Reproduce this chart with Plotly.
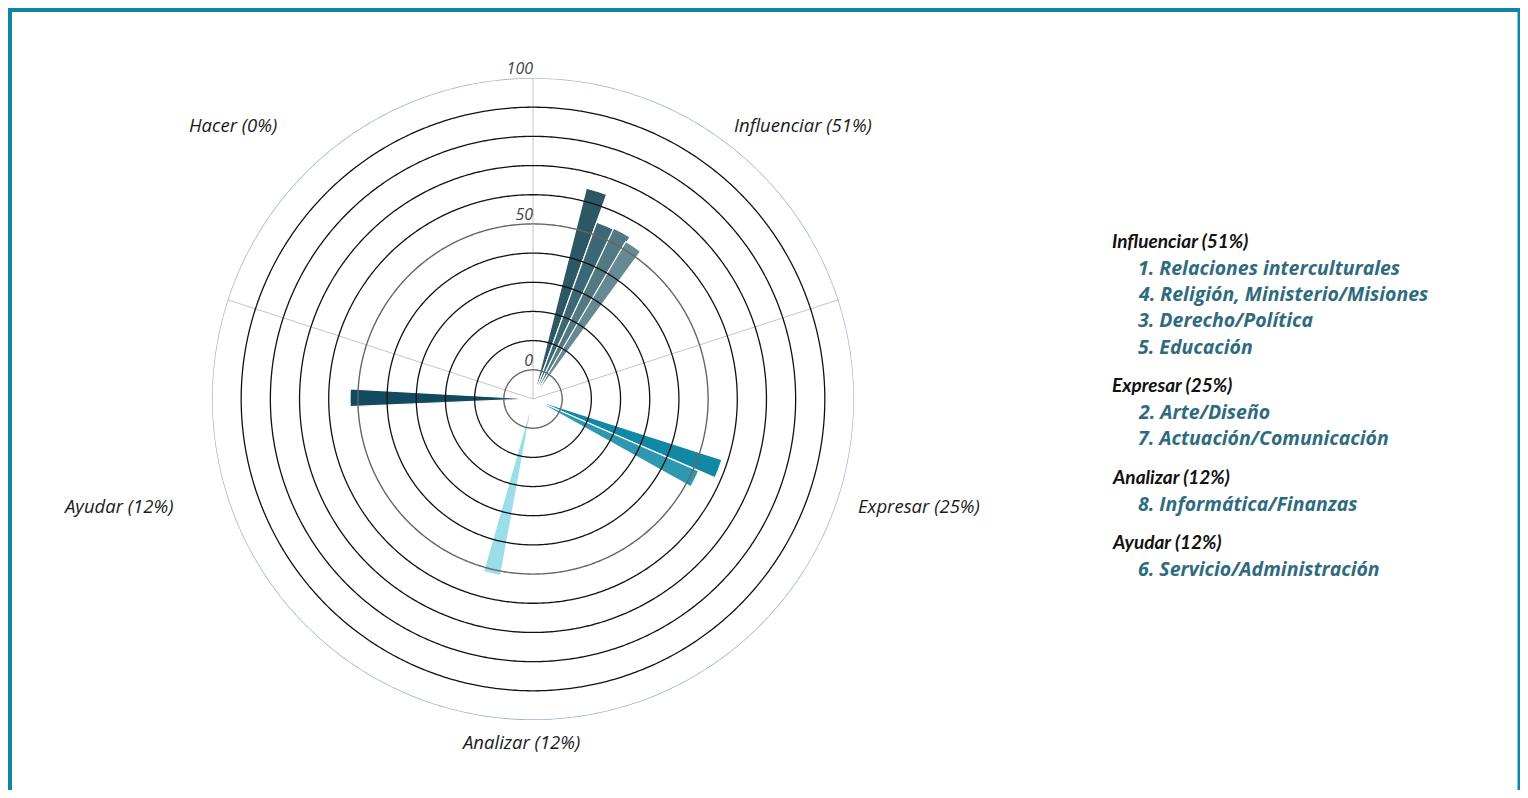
import numpy as np
import plotly.graph_objects as go

# ---------------- data ----------------
categories = ["Influenciar", "Expresar", "Analizar", "Ayudar", "Hacer"]
category_pct = [51, 25, 12, 12, 0]
sector_edges = [90, 18, -54, -126, 162]

item_labels = [
    ["1. Relaciones interculturales", "4. Religión, Ministerio/Misiones",
     "3. Derecho/Política", "5. Educación"],
    ["2. Arte/Diseño", "7. Actuación/Comunicación"],
    ["8. Informática/Finanzas"],
    ["6. Servicio/Administración"],
    [],
]
item_values = [
    [64.5, 54.4, 54.7, 52.6],
    [58.0, 51.9],
    [51.5],
    [52.7],
    [],
]
item_theta = [
    [73.0, 67.4, 61.9, 56.7],
    [-20.6, -26.3],
    [-103.2],
    [179.6],
    [],
]
item_colors = [
    ["#1b4c58", "#2d5d6a", "#456f7a", "#5b828b"],
    ["#00809f", "#1e91ab"],
    ["#94dce9"],
    ["#033d55"],
    [],
]

radial_ticks = [0, 10, 20, 30, 40, 50, 60, 70, 80, 90, 100]
radial_labels = [0, 50, 100]

# ---------------- layout helpers ----------------
# the page body adds an 8px margin, so the figure is shifted by OFF
OFF = 8
W, H = 1514, 782
CX, CY, R = 533, 399, 321
BAR_BASE = -5


def px(x):
    return (x - OFF) / W


def py(y):
    return 1 - (y - OFF) / H


fig = go.Figure()

# circular grid lines
circle_theta = np.linspace(0, 360, 721)
for t in radial_ticks:
    if t == 100:
        col, w = "#9fb2c4", 1.4
    elif t in (0, 50):
        col, w = "#666666", 1.4
    else:
        col, w = "#111111", 1.3
    fig.add_trace(go.Scatterpolar(
        r=[t] * len(circle_theta), theta=circle_theta, mode="lines",
        line=dict(color=col, width=w), hoverinfo="skip", showlegend=False))

# bars
for ci, cat in enumerate(categories):
    vals = item_values[ci]
    if not vals:
        continue
    fig.add_trace(go.Barpolar(
        r=[v - BAR_BASE for v in vals],
        base=[BAR_BASE] * len(vals),
        theta=item_theta[ci],
        width=[5.6] * len(vals),
        marker=dict(color=item_colors[ci], line=dict(color="white", width=1.2)),
        opacity=0.93,
        text=item_labels[ci],
        hovertemplate="%{text}<extra></extra>",
        showlegend=False,
    ))

# radial tick labels
fig.add_trace(go.Scatterpolar(
    r=radial_labels, theta=[90] * len(radial_labels), mode="text",
    text=[str(v) for v in radial_labels], textposition="top left",
    textfont=dict(family="Open Sans", size=16, color="#444444", style="italic"),
    hoverinfo="skip", showlegend=False))

fig.update_layout(
    width=W, height=H,
    margin=dict(l=0, r=0, t=0, b=0),
    paper_bgcolor="white",
    plot_bgcolor="white",
    polar=dict(
        domain=dict(x=[px(CX - R), px(CX + R)], y=[py(CY + R), py(CY - R)]),
        bgcolor="white",
        radialaxis=dict(range=[-10, 100], visible=False, showgrid=False),
        angularaxis=dict(
            direction="counterclockwise", rotation=0,
            tickmode="array", tickvals=sector_edges,
            showticklabels=False, ticks="",
            showgrid=True, gridcolor="#c4c4c4", gridwidth=1.2,
            showline=False,
        ),
    ),
)

# category labels around the chart
label_pos = {
    "Influenciar": (803, 124),
    "Expresar": (919, 505),
    "Analizar": (520, 741),
    "Ayudar": (118, 505),
    "Hacer": (233, 124),
}
for cat, pct in zip(categories, category_pct):
    x, y = label_pos[cat]
    fig.add_annotation(
        x=px(x), y=py(y), xref="paper", yref="paper",
        text=f"{cat} ({pct}%)", showarrow=False,
        xanchor="center", yanchor="middle",
        font=dict(family="Open Sans", size=18.5, color="#1a1a1a", style="italic"))

# legend text on the right
y = 240
for ci, cat in enumerate(categories):
    if not item_labels[ci]:
        continue
    fig.add_annotation(
        x=px(1110), y=py(y), xref="paper", yref="paper",
        text=f"{cat} ({category_pct[ci]}%)", showarrow=False,
        xanchor="left", yanchor="middle",
        font=dict(family="Lato", size=19, color="#111111", style="italic", weight=700))
    y += 27
    for lab in item_labels[ci]:
        fig.add_annotation(
            x=px(1136), y=py(y), xref="paper", yref="paper",
            text=lab, showarrow=False, xanchor="left", yanchor="middle",
            font=dict(family="Open Sans", size=19.5, color="#2f6b7e",
                      style="italic", weight=700))
        y += 26.4
    y += 12

# frame
fig.add_shape(
    type="rect", xref="paper", yref="paper",
    x0=px(10), x1=px(1519.5), y0=py(805), y1=py(10),
    line=dict(color="#0e86a6", width=4), fillcolor="rgba(0,0,0,0)", layer="above")

fig.write_html("out.html")
